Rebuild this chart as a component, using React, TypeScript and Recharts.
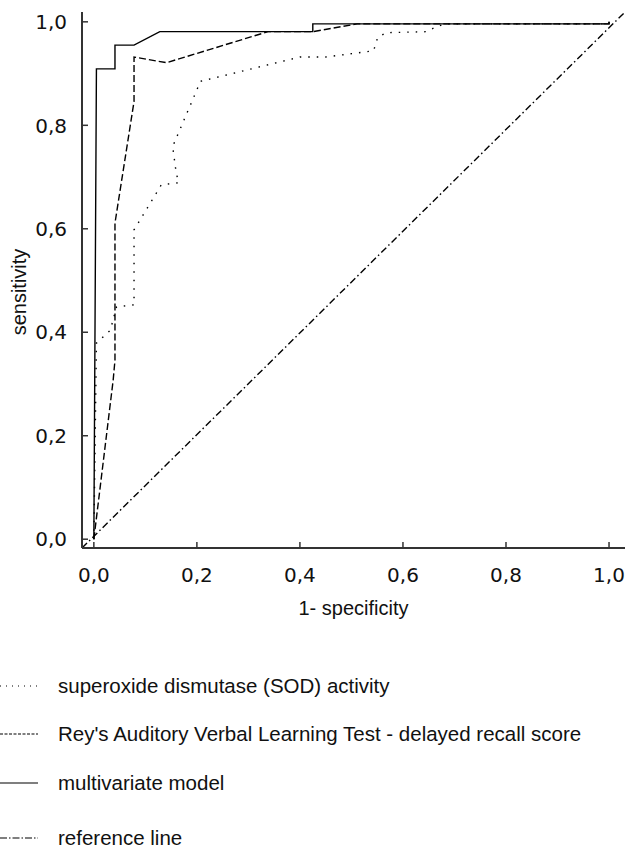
import React from "react";
import { LineChart, Line, XAxis, YAxis } from "recharts";

// axis ranges (the plot frame runs a little past 0 and 1)
const X_MIN = -0.023;
const X_MAX = 1.031;
const Y_MIN = -0.017;
const Y_MAX = 1.019;
const ticks = [0, 0.2, 0.4, 0.6, 0.8, 1.0];

// SOD activity (dotted)
const sodFpr = [0, 0.005, 0.032, 0.044, 0.078, 0.078, 0.131, 0.165, 0.16, 0.153, 0.207, 0.4, 0.45, 0.543, 0.551, 0.568, 0.645, 0.66, 0.68, 1.0, 1.0];
const sodTpr = [0, 0.379, 0.404, 0.449, 0.453, 0.598, 0.685, 0.689, 0.707, 0.759, 0.885, 0.932, 0.932, 0.944, 0.97, 0.979, 0.981, 0.988, 0.996, 0.996, 1.0];

// RAVLT delayed recall (dashed)
const ravltFpr = [0, 0.0375, 0.041, 0.041, 0.078, 0.078, 0.141, 0.338, 0.425, 0.511, 1.0, 1.0];
const ravltTpr = [0, 0.3075, 0.346, 0.611, 0.846, 0.932, 0.921, 0.981, 0.981, 0.996, 0.996, 1.0];

// multivariate model (solid)
const multiFpr = [0, 0.005, 0.041, 0.041, 0.078, 0.128, 0.425, 0.425, 1.0, 1.0];
const multiTpr = [0, 0.909, 0.909, 0.955, 0.955, 0.981, 0.981, 0.996, 0.996, 1.0];

// reference line, corner to corner
const refFpr = [X_MIN, X_MAX];
const refTpr = [Y_MIN, Y_MAX];

const toPoints = (xs: number[], ys: number[]) => xs.map((x, i) => ({ x, y: ys[i] }));

const series = [
  { name: "superoxide dismutase (SOD) activity", data: toPoints(sodFpr, sodTpr), dash: "1.5 7", legendDash: "1 5" },
  { name: "Rey's Auditory Verbal Learning Test - delayed recall score", data: toPoints(ravltFpr, ravltTpr), dash: "7 3", legendDash: "3 1.5" },
  { name: "multivariate model", data: toPoints(multiFpr, multiTpr), dash: undefined, legendDash: undefined },
  { name: "reference line", data: toPoints(refFpr, refTpr), dash: "7 3 1.5 3", legendDash: "7 2 1.5 2" },
];

const frame = "#333";
const fmt = (v: number) => v.toFixed(1).replace(".", ",");
const tickFont = "'DejaVu Sans', Verdana, sans-serif";
const textFont = "'Liberation Sans', Arial, sans-serif";

const YTick = (props: any) => {
  const { x, y, payload } = props;
  return (
    <g>
      <line x1={x} x2={x + 6} y1={y} y2={y} stroke={frame} strokeWidth={1.5} />
      <text x={x - 15} y={y} dy="0.36em" textAnchor="end" fontFamily={tickFont} fontSize={20} fill="#111">
        {fmt(payload.value)}
      </text>
    </g>
  );
};

const XTick = (props: any) => {
  const { x, y, payload } = props;
  return (
    <g>
      <line x1={x} x2={x} y1={y} y2={y - 6} stroke={frame} strokeWidth={1.5} />
      <text x={x} y={y + 34} textAnchor="middle" fontFamily={tickFont} fontSize={20} fill="#111">
        {fmt(payload.value)}
      </text>
    </g>
  );
};

const legendRows = [686, 734, 783, 838];

export default function App() {
  return (
    <div style={{ position: "absolute", left: 0, top: 0, width: 626, height: 848, background: "#fff" }}>
      <LineChart width={626} height={628} margin={{ top: 12, right: 1, left: 0, bottom: 0 }}>
        <XAxis
          dataKey="x"
          type="number"
          domain={[X_MIN, X_MAX]}
          ticks={ticks}
          interval={0}
          tickSize={0}
          tickMargin={0}
          tick={<XTick />}
          height={80}
          axisLine={{ stroke: frame, strokeWidth: 2 }}
          allowDataOverflow
          label={{ value: "1- specificity", position: "center", dy: 20, fontFamily: textFont, fontSize: 20, fill: "#111" }}
        />
        <YAxis
          dataKey="y"
          type="number"
          domain={[Y_MIN, Y_MAX]}
          ticks={ticks}
          interval={0}
          tickSize={0}
          tickMargin={0}
          tick={<YTick />}
          width={82}
          axisLine={{ stroke: frame, strokeWidth: 2 }}
          allowDataOverflow
          label={{ value: "sensitivity", angle: -90, position: "center", dx: -22, dy: 12, fontFamily: textFont, fontSize: 20, fill: "#111" }}
        />
        <XAxis xAxisId="top" orientation="top" type="number" domain={[X_MIN, X_MAX]} height={0} tick={false} tickLine={false} axisLine={{ stroke: frame, strokeWidth: 2 }} />
        <YAxis yAxisId="right" orientation="right" type="number" domain={[Y_MIN, Y_MAX]} width={0} tick={false} tickLine={false} axisLine={{ stroke: frame, strokeWidth: 2 }} />
        {series.map((s) => (
          <Line
            key={s.name}
            data={s.data}
            dataKey="y"
            type="linear"
            stroke="#000"
            strokeWidth={1.4}
            strokeDasharray={s.dash}
            dot={false}
            activeDot={false}
            isAnimationActive={false}
          />
        ))}
      </LineChart>
      {series.map((s, i) => (
        <div
          key={s.name}
          style={{ position: "absolute", left: 0, top: legendRows[i] - 12, height: 24, display: "flex", alignItems: "center" }}
        >
          <svg width={40} height={24} style={{ display: "block" }}>
            <line x1={0} x2={38} y1={12} y2={12} stroke="#000" strokeWidth={1.2} strokeDasharray={s.legendDash} />
          </svg>
          <span style={{ marginLeft: 18, fontFamily: textFont, fontSize: 20.5, color: "#111", whiteSpace: "nowrap" }}>{s.name}</span>
        </div>
      ))}
    </div>
  );
}
